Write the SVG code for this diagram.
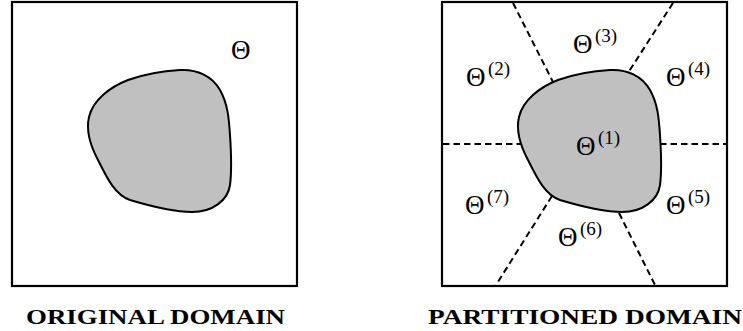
<svg xmlns="http://www.w3.org/2000/svg" xmlns:xlink="http://www.w3.org/1999/xlink" width="743" height="331" viewBox="0 0 743 331">
<style>
.box{fill:#fff;stroke:#000;stroke-width:2.2}
.blob{fill:#c0c0c0;stroke:#000;stroke-width:2}
.dash{stroke:#000;stroke-width:2;stroke-dasharray:6.5 4;fill:none}
.th{font-family:"Liberation Serif","DejaVu Serif",serif;font-size:27px;fill:#000}
.sup{font-family:"Liberation Serif","DejaVu Serif",serif;font-size:19px;fill:#000}
.cap{font-family:"Liberation Serif","DejaVu Serif",serif;font-size:21px;font-weight:bold;fill:#000}
</style>
<defs>
<path id="blobShape" d="M180,70 C197,69 212,76 220,90 C228,104 229,120 230,135 C231,150 232,170 230,185 C228,200 213,212 192,212 C175,212 150,206 130,200 C115,195 107,178 98,160 C90,145 86,130 89,117 C93,100 110,87 128,80 C142,75 162,71 180,70 Z"/>
</defs>
<g id="original">
<rect class="box" x="12" y="2" width="285" height="284"/>
<use xlink:href="#blobShape" class="blob"/>
<text class="th" x="231" y="59">Θ</text>
<text class="cap" x="26" y="324" textLength="259" lengthAdjust="spacingAndGlyphs">ORIGINAL DOMAIN</text>
</g>
<g id="partitioned">
<rect class="box" x="442" y="2" width="285" height="284"/>
<use xlink:href="#blobShape" class="blob" transform="translate(430,0)"/>
<text class="cap" x="428" y="324" textLength="314" lengthAdjust="spacingAndGlyphs">PARTITIONED DOMAIN</text>
</g>
<g id="connectors">
<line class="dash" x1="443" y1="144" x2="521" y2="144"/>
<line class="dash" x1="660" y1="144" x2="726" y2="144"/>
<line class="dash" x1="513" y1="3" x2="553" y2="82"/>
<line class="dash" x1="673" y1="3" x2="628" y2="73"/>
<line class="dash" x1="552" y1="196" x2="496" y2="285"/>
<line class="dash" x1="619" y1="213" x2="655" y2="285"/>
</g>
<g id="labels">
<g id="p1"><text class="th" x="576" y="155">Θ</text><text class="sup" x="598" y="144">(1)</text></g>
<g id="p2"><text class="th" x="466" y="86">Θ</text><text class="sup" x="488" y="75">(2)</text></g>
<g id="p3"><text class="th" x="573" y="53">Θ</text><text class="sup" x="595" y="42">(3)</text></g>
<g id="p4"><text class="th" x="666" y="86">Θ</text><text class="sup" x="688" y="75">(4)</text></g>
<g id="p5"><text class="th" x="666" y="214">Θ</text><text class="sup" x="688" y="203">(5)</text></g>
<g id="p6"><text class="th" x="558" y="246">Θ</text><text class="sup" x="580" y="235">(6)</text></g>
<g id="p7"><text class="th" x="465" y="214">Θ</text><text class="sup" x="487" y="203">(7)</text></g>
</g>
</svg>
